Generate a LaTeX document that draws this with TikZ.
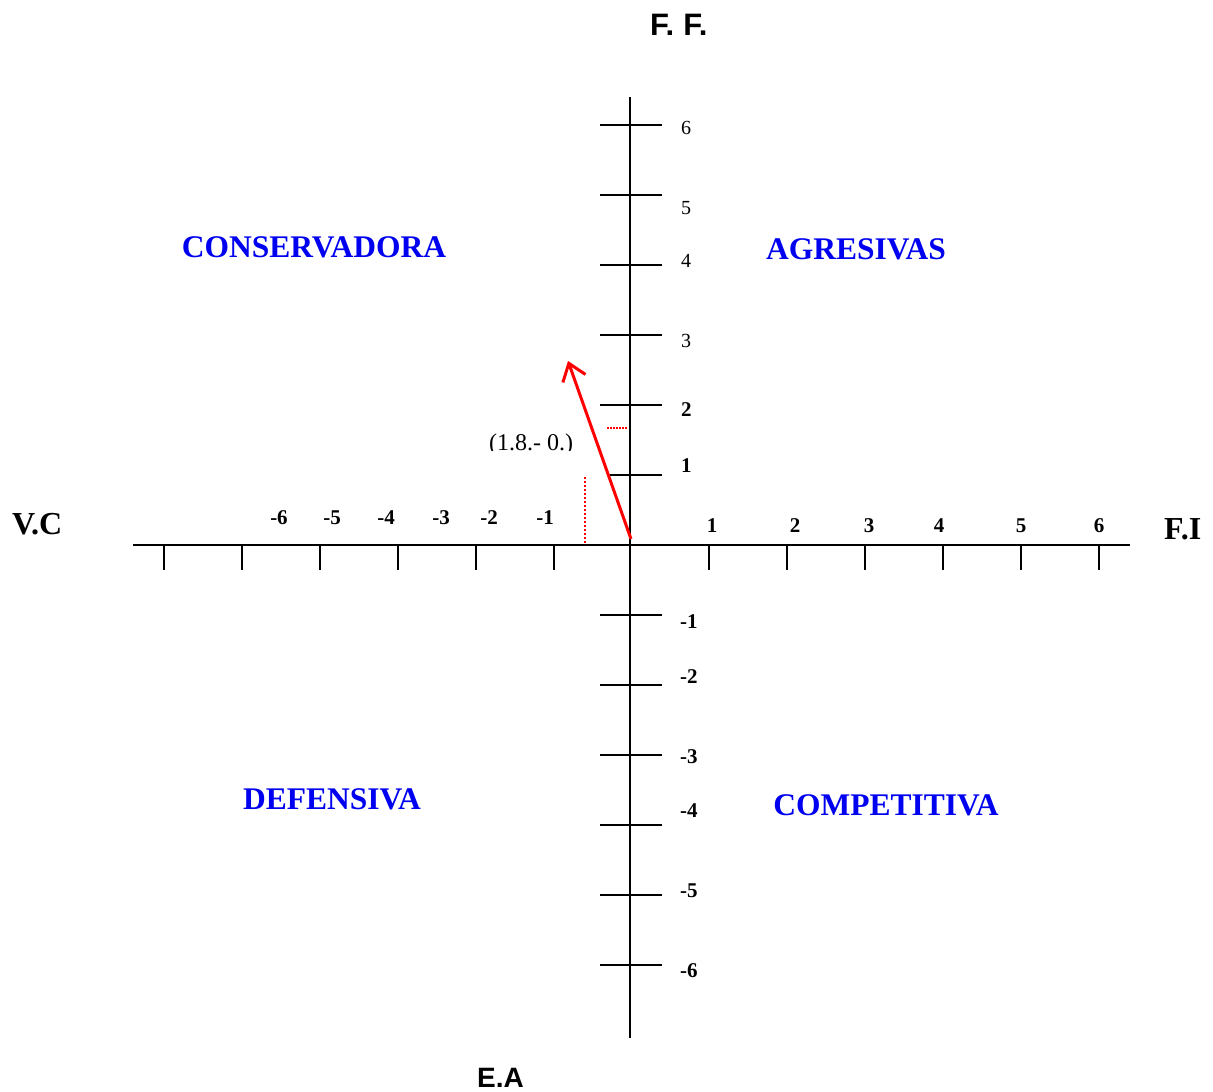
\documentclass[tikz,border=0pt]{standalone}
\usepackage{fontspec}
\setmainfont{Liberation Serif}
\newfontfamily\hsans{Liberation Sans}
\usetikzlibrary{arrows.meta}
\definecolor{qblue}{RGB}{0,0,240}
\definecolor{qred}{RGB}{255,0,0}
\newcommand\myfs[1]{\fontsize{#1}{#1}\selectfont}
\begin{document}
\begin{tikzpicture}[x=1pt,y=-1pt,
  axisline/.style={line width=1.8pt, black},
  quadlab/.style={text=qblue, font=\myfs{31.5}\bfseries, anchor=base, inner sep=0pt},
  xlab/.style={font=\myfs{21}\bfseries, anchor=base, inner sep=0pt},
  ylabr/.style={font=\myfs{20}, anchor=base west, inner sep=0pt},
  ylabb/.style={font=\myfs{21}\bfseries, anchor=base west, inner sep=0pt},
  axname/.style={font=\myfs{32}\bfseries, anchor=base west, inner sep=0pt},
  sansname/.style={font=\hsans\myfs{28}\bfseries, anchor=base west, inner sep=0pt}]
\useasboundingbox (0,0) rectangle (1213,1092);
% axes
\coordinate (xleft) at (133,545);
\coordinate (xright) at (1130,545);
\coordinate (ytop) at (630,97);
\coordinate (ybot) at (630,1038);
\draw[axisline] (xleft) -- (xright);
\draw[axisline] (ytop) -- (ybot);
% ticks on horizontal axis
\foreach \x in {164,242,320,398,476,554,709,787,865,943,1021,1099}
  \draw[axisline] (\x,545) -- (\x,570);
% ticks on vertical axis
\foreach \y in {125,195,265,335,405,615,685,755,825,895,965}
  \draw[axisline] (600,\y) -- (662,\y);
\draw[line width=1.1pt] (610,475) -- (662,475);
% horizontal axis labels
\foreach \t/\x [count=\i] in {-6/279,-5/332,-4/386,-3/441,-2/489,-1/545}
  \node[xlab] (xneg\i) at (\x,524) {\t};
\foreach \t/\x [count=\i] in {1/712,2/795,3/869,4/939,5/1021,6/1099}
  \node[xlab] (xpos\i) at (\x,532) {\t};
% vertical axis labels
\foreach \t/\y [count=\i] in {6/134,5/214,4/267,3/347}
  \node[ylabr] (ypos\i) at (681,\y) {\t};
\node[ylabb] (ytwo) at (681,416) {2};
\node[ylabb] (yone) at (681,472) {1};
\foreach \t/\y [count=\i] in {-1/628,-2/683,-3/763,-4/817,-5/897,-6/977}
  \node[ylabb] (yneg\i) at (680,\y) {\t};
% axis names
\node[axname] (vc) at (12,534) {V.C};
\node[axname] (fi) at (1164,539) {F.I};
\node[sansname, font=\hsans\myfs{31}\bfseries] (ff) at (650,35) {F.\hspace{9pt}F.};
\node[sansname] (ea) at (477,1087) {E.A};
% quadrant labels
\node[quadlab] (cons) at (314,257) {CONSERVADORA};
\node[quadlab] (agre) at (856,259) {AGRESIVAS};
\node[quadlab] (defe) at (332,809) {DEFENSIVA};
\node[quadlab] (comp) at (886,815) {COMPETITIVA};
% red vector
\coordinate (orig) at (631,539);
\coordinate (tip) at (568,361);
\draw[qred, line width=3pt, -{Straight Barb[length=16pt,width=24pt,line width=3pt]}] (orig) -- (tip);
\draw[qred, line width=1.3pt, dash pattern=on 2pt off 2pt] (585,477) -- (585,545);
\draw[qred, line width=1.3pt, dash pattern=on 1.5pt off 1.5pt] (607,428) -- (628,428);
% clipped label
\begin{scope}
\clip (440,420) rectangle (620,450);
\node[font=\myfs{24}, anchor=base, inner sep=0pt] (vlab) at (531,450) {(1.8.- 0.)};
\end{scope}
\end{tikzpicture}
\end{document}
